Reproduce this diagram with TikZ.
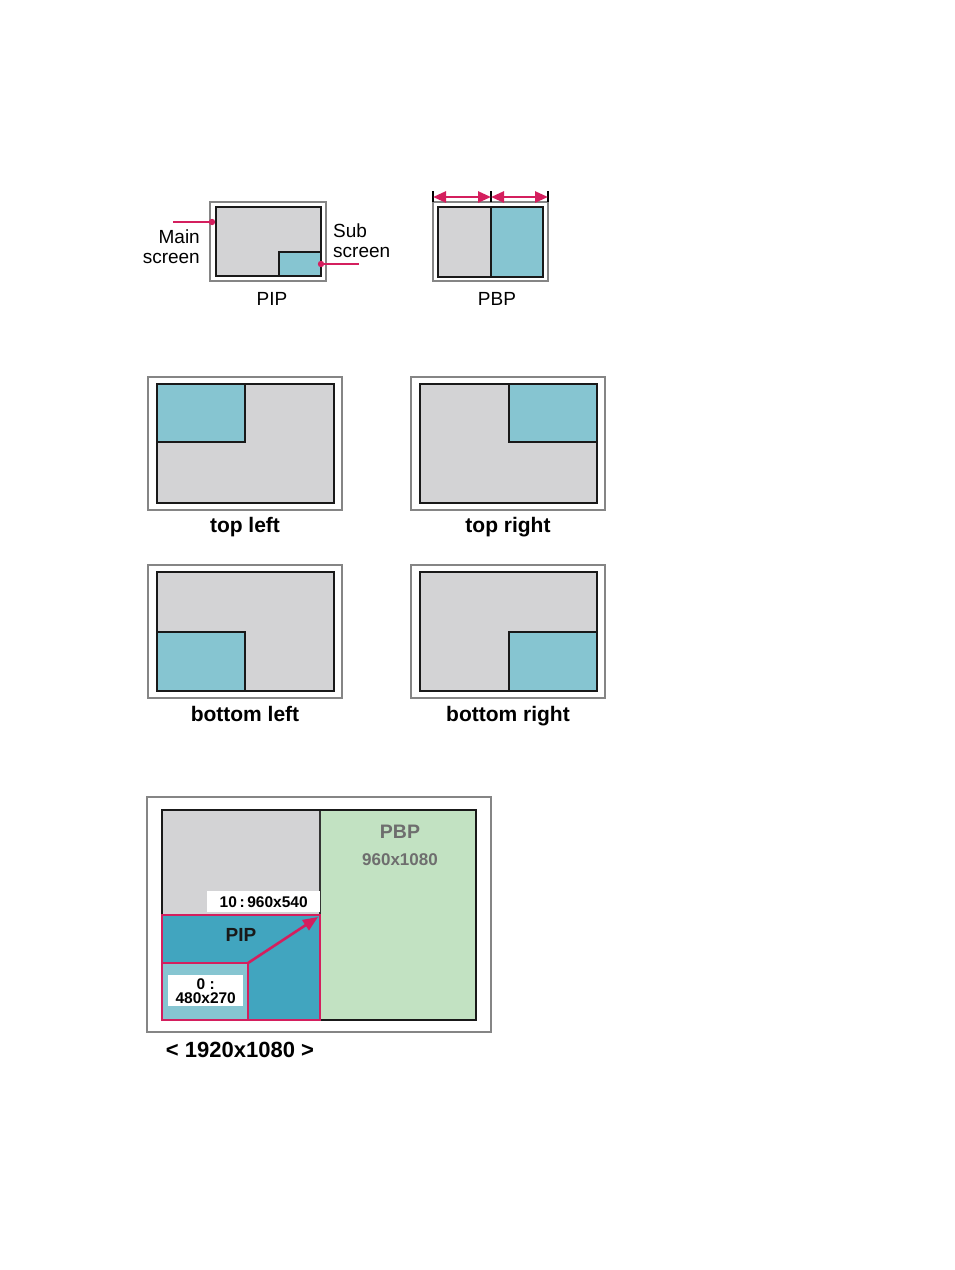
\documentclass[tikz,border=0pt]{standalone}
\usepackage{fontspec}
\setmainfont{Liberation Sans}
\usetikzlibrary{arrows.meta}
\definecolor{scrgray}{HTML}{D3D3D5}
\definecolor{subteal}{HTML}{86C5D1}
\definecolor{pipteal}{HTML}{41A5BF}
\definecolor{pbpgreen}{HTML}{C2E2C2}
\definecolor{pinkc}{HTML}{D41F5E}
\definecolor{framegray}{HTML}{858585}
\definecolor{labgray}{HTML}{6E6E6E}
\tikzset{
  frame/.style={draw=framegray, line width=2.8pt, fill=white},
  mainscr/.style={draw=black!90, line width=2.4pt, fill=scrgray},
  subscr/.style={draw=black!90, line width=1.5pt, fill=subteal},
  inner/.style={draw=black!90, line width=2.4pt},
  pinkline/.style={draw=pinkc, line width=2.4pt},
  pinkarr/.style={draw=pinkc, line width=2.6pt, {Triangle[length=13pt,width=11pt]}-{Triangle[length=13pt,width=11pt]}},
  pinkone/.style={draw=pinkc, line width=2.6pt, -{Triangle[length=15pt,width=12pt]}},
  tick/.style={draw=black, line width=2.4pt},
  reg/.style={font=\fontsize{19}{19.5}\selectfont, inner sep=0pt},
  poslab/.style={font=\fontsize{21}{24}\selectfont\bfseries, inner sep=0pt, anchor=base},
  whitebox/.style={fill=white, inner sep=0pt},
}
\begin{document}
\begin{tikzpicture}[x=1pt,y=-1pt]
\useasboundingbox (0,0) rectangle (954,1270);
% ---- PIP icon ----
\draw[frame] (210,202) rectangle (326,281);
\draw[mainscr] (216,207) rectangle (321,276);
\draw[subscr] (279,252) rectangle (321,276);
\draw[inner] (216,207) rectangle (321,276);
\node[reg, anchor=east, align=right] (mainlab) at (200,246.5) {Main\\screen};
\coordinate (mainstart) at (173,222);
\coordinate (maintip) at (212,222);
\draw[pinkline] (mainstart) -- (maintip);
\fill[pinkc] (maintip) circle (3.2);
\node[reg, anchor=west, align=left] (sublab) at (333,240.5) {Sub\\screen};
\coordinate (subtip) at (321,264);
\coordinate (subend) at (359,264);
\draw[pinkline] (subtip) -- (subend);
\fill[pinkc] (subtip) circle (3.2);
\node[reg, anchor=base] (piplab) at (272,305) {PIP};
% ---- PBP icon ----
\draw[frame] (433,202) rectangle (548,281);
\draw[mainscr] (438,207) rectangle (543,277);
\draw[subscr] (491,207) rectangle (543,277);
\draw[inner] (438,207) rectangle (543,277);
\coordinate (ta) at (433,197);
\coordinate (tb) at (491,197);
\coordinate (tc) at (548,197);
\draw[tick] (433,191) -- (433,202);
\draw[tick] (491,191) -- (491,202);
\draw[tick] (548,191) -- (548,202);
\draw[pinkarr] (ta) -- (tb);
\draw[pinkarr] (tb) -- (tc);
\node[reg, anchor=base] (pbplab) at (497,305) {PBP};
% ---- top left ----
\draw[frame] (148,377) rectangle (342,510);
\draw[mainscr] (157,384) rectangle (334,503);
\draw[subscr] (157,384) rectangle (245,442);
\draw[inner] (157,384) rectangle (334,503);
\node[poslab] (tl) at (245,532) {top left};
% ---- top right ----
\draw[frame] (411,377) rectangle (605,510);
\draw[mainscr] (420,384) rectangle (597,503);
\draw[subscr] (509,384) rectangle (597,442);
\draw[inner] (420,384) rectangle (597,503);
\node[poslab] (tr) at (508,532) {top right};
% ---- bottom left ----
\draw[frame] (148,565) rectangle (342,698);
\draw[mainscr] (157,572) rectangle (334,691);
\draw[subscr] (157,632) rectangle (245,691);
\draw[inner] (157,572) rectangle (334,691);
\node[poslab] (bl) at (245,721) {bottom left};
% ---- bottom right ----
\draw[frame] (411,565) rectangle (605,698);
\draw[mainscr] (420,572) rectangle (597,691);
\draw[subscr] (509,632) rectangle (597,691);
\draw[inner] (420,572) rectangle (597,691);
\node[poslab] (br) at (508,721) {bottom right};
% ---- big diagram ----
\draw[frame] (147,797) rectangle (491,1032);
\fill[scrgray] (162,810) rectangle (320,915);
\fill[pbpgreen] (320,810) rectangle (476,1020);
\draw[black!80, line width=1.8pt] (320,810) -- (320,915);
\draw[black!90, line width=2.4pt] (162,810) rectangle (476,1020);
\fill[pipteal] (162,915) rectangle (320,1020);
\fill[subteal] (162,963) rectangle (248,1020);
\draw[pinkc, line width=2.8pt] (162,915) rectangle (320,1020);
\draw[pinkc, line width=2.8pt] (162,963) rectangle (248,1020);
\node[whitebox, minimum width=113pt, minimum height=21pt, anchor=north west,
      font=\fontsize{15.5}{16}\selectfont\bfseries] (lab10) at (207,891) {10\,:\,960x540};
\node[whitebox, minimum width=75pt, minimum height=31pt, anchor=north west, align=center,
      font=\fontsize{15.5}{14}\selectfont\bfseries] (lab0) at (168,975) {0 :\\480x270};
\coordinate (arrstart) at (248,963);
\coordinate (arrend) at (318,917);
\draw[pinkone] (arrstart) -- (arrend);
\node[font=\fontsize{19}{20}\selectfont\bfseries, text=black!90, inner sep=0pt] (piptxt) at (241,935) {PIP};
\node[font=\fontsize{19.5}{20}\selectfont\bfseries, text=labgray, inner sep=0pt] (pbptxt) at (400,832) {PBP};
\node[font=\fontsize{17}{18}\selectfont\bfseries, text=labgray, inner sep=0pt] (pbpres) at (400,860) {960x1080};
\node[font=\fontsize{22}{24}\selectfont\bfseries, inner sep=0pt] (full) at (240,1050) {< 1920x1080 >};
\end{tikzpicture}
\end{document}
